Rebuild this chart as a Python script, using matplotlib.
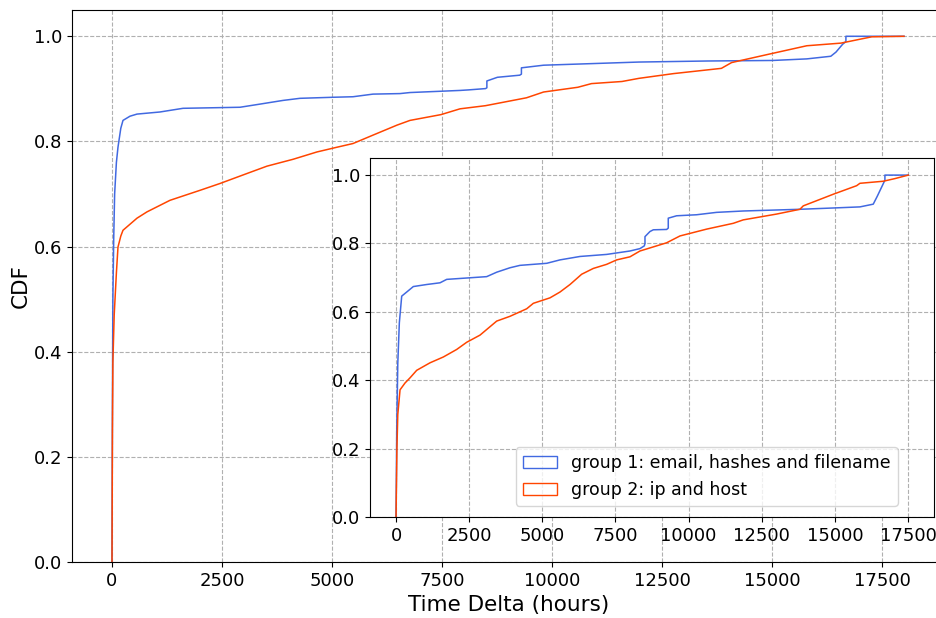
import matplotlib
matplotlib.use("Agg")
import matplotlib.pyplot as plt
from matplotlib.patches import Patch

# ---- main plot data (time delta hours, CDF) ----
main_g1_x = [0, 10, 20, 40, 60, 100, 136, 200, 250, 409, 568, 1090, 1614, 2909, 3364, 3886, 4272,
             5022, 5477, 5932, 6545, 6773, 7909, 8100, 8489, 8520, 8520, 8759, 9266, 9305, 9305,
             9809, 10898, 11977, 13538, 15014, 15791, 16336, 16455, 16607, 16680, 16680, 18000]
main_g1_y = [0.0, 0.30, 0.50, 0.62, 0.70, 0.76, 0.789, 0.825, 0.840, 0.848, 0.852, 0.856, 0.863,
             0.865, 0.871, 0.878, 0.882, 0.884, 0.885, 0.890, 0.891, 0.893, 0.897, 0.898, 0.9005,
             0.902, 0.915, 0.922, 0.926, 0.928, 0.940, 0.945, 0.948, 0.951, 0.953, 0.954, 0.957,
             0.962, 0.970, 0.985, 0.990, 1.0, 1.0]

main_g2_x = [0, 10, 20, 50, 100, 136, 200, 250, 568, 795, 1318, 2000, 2455, 3068, 3523, 4114,
             4659, 5114, 5477, 5932, 6477, 6773, 7477, 7909, 8489, 9420, 9809, 10586, 10898,
             11590, 11977, 12761, 13850, 14082, 14932, 15791, 16568, 17034, 17268, 18000]
main_g2_y = [0.0, 0.25, 0.38, 0.47, 0.55, 0.599, 0.620, 0.631, 0.654, 0.666, 0.688, 0.707, 0.720,
             0.739, 0.753, 0.766, 0.780, 0.789, 0.796, 0.812, 0.831, 0.840, 0.851, 0.862, 0.868,
             0.883, 0.894, 0.903, 0.910, 0.914, 0.920, 0.929, 0.939, 0.950, 0.966, 0.982, 0.987,
             0.995, 0.999, 1.0]

# ---- inset data ----
ins_g1_x = [0, 10, 23, 60, 113, 194, 365, 591, 1048, 1504, 1732, 3099, 3441, 3896, 4238, 5150,
            5605, 6289, 7200, 7997, 8339, 8487, 8510, 8510, 8681, 8795, 9250, 9306, 9306, 9591,
            10274, 10957, 11868, 13807, 15004, 15858, 16313, 16450, 16634, 16712, 16712, 17510]
ins_g1_y = [0.0, 0.10, 0.25, 0.45, 0.568, 0.646, 0.658, 0.674, 0.680, 0.685, 0.695, 0.703, 0.716,
            0.729, 0.736, 0.742, 0.752, 0.762, 0.768, 0.778, 0.785, 0.793, 0.800, 0.820, 0.835,
            0.840, 0.841, 0.845, 0.874, 0.881, 0.884, 0.891, 0.895, 0.900, 0.904, 0.907, 0.915,
            0.938, 0.971, 0.985, 1.0, 1.0]

ins_g2_x = [0, 15, 30, 60, 137, 308, 478, 706, 1162, 1617, 2073, 2415, 2871, 3441, 3896, 4466,
            4694, 5263, 5605, 5947, 6345, 6744, 7200, 7542, 7997, 8339, 9250, 9706, 10618, 11530,
            11868, 13008, 13807, 13921, 14946, 15745, 15858, 16655, 17065, 17510]
ins_g2_y = [0.0, 0.10, 0.20, 0.30, 0.372, 0.392, 0.407, 0.429, 0.451, 0.468, 0.490, 0.511, 0.532,
            0.573, 0.587, 0.609, 0.625, 0.641, 0.658, 0.680, 0.710, 0.727, 0.739, 0.752, 0.761,
            0.778, 0.802, 0.822, 0.842, 0.859, 0.869, 0.886, 0.900, 0.910, 0.944, 0.969, 0.976,
            0.982, 0.990, 1.0]

labels = ["group 1: email, hashes and filename", "group 2: ip and host"]
colors = ["royalblue", "orangered"]
xticks = [0, 2500, 5000, 7500, 10000, 12500, 15000, 17500]
yticks = [0.0, 0.2, 0.4, 0.6, 0.8, 1.0]

fig = plt.figure(figsize=(9.36, 6.18), dpi=100)

ax = fig.add_axes([72 / 936, 56 / 618, (945 - 72) / 936, 552 / 618])
ax.plot(main_g1_x, main_g1_y, color=colors[0], lw=1.1)
ax.plot(main_g2_x, main_g2_y, color=colors[1], lw=1.1)
ax.set_xlim(-909, 18932)
ax.set_ylim(0, 1.05)
ax.set_xticks(xticks)
ax.set_yticks(yticks)
ax.tick_params(labelsize=13)
ax.grid(True, linestyle='--', color='#b0b0b0', lw=0.8)
ax.set_xlabel("Time Delta (hours)", fontsize=15.5)
ax.set_ylabel("CDF", fontsize=15.5, labelpad=2)

ins = fig.add_axes([370 / 936, 101 / 618, (934 - 370) / 936, (517 - 158) / 618])
ins.plot(ins_g1_x, ins_g1_y, color=colors[0], lw=1.1)
ins.plot(ins_g2_x, ins_g2_y, color=colors[1], lw=1.1)
ins.set_xlim(-890, 18390)
ins.set_ylim(0, 1.05)
ins.set_xticks(xticks)
ins.set_yticks(yticks)
ins.tick_params(labelsize=13)
ins.grid(True, linestyle='--', color='#b0b0b0', lw=0.8)

handles = [Patch(facecolor='none', edgecolor=c, lw=1.0) for c in colors]
ins.legend(handles, labels, loc='lower right', fontsize=12.5, framealpha=0.8,
           bbox_to_anchor=(0.936, 0.031), borderaxespad=0)

fig.savefig("out.png", dpi=100)
